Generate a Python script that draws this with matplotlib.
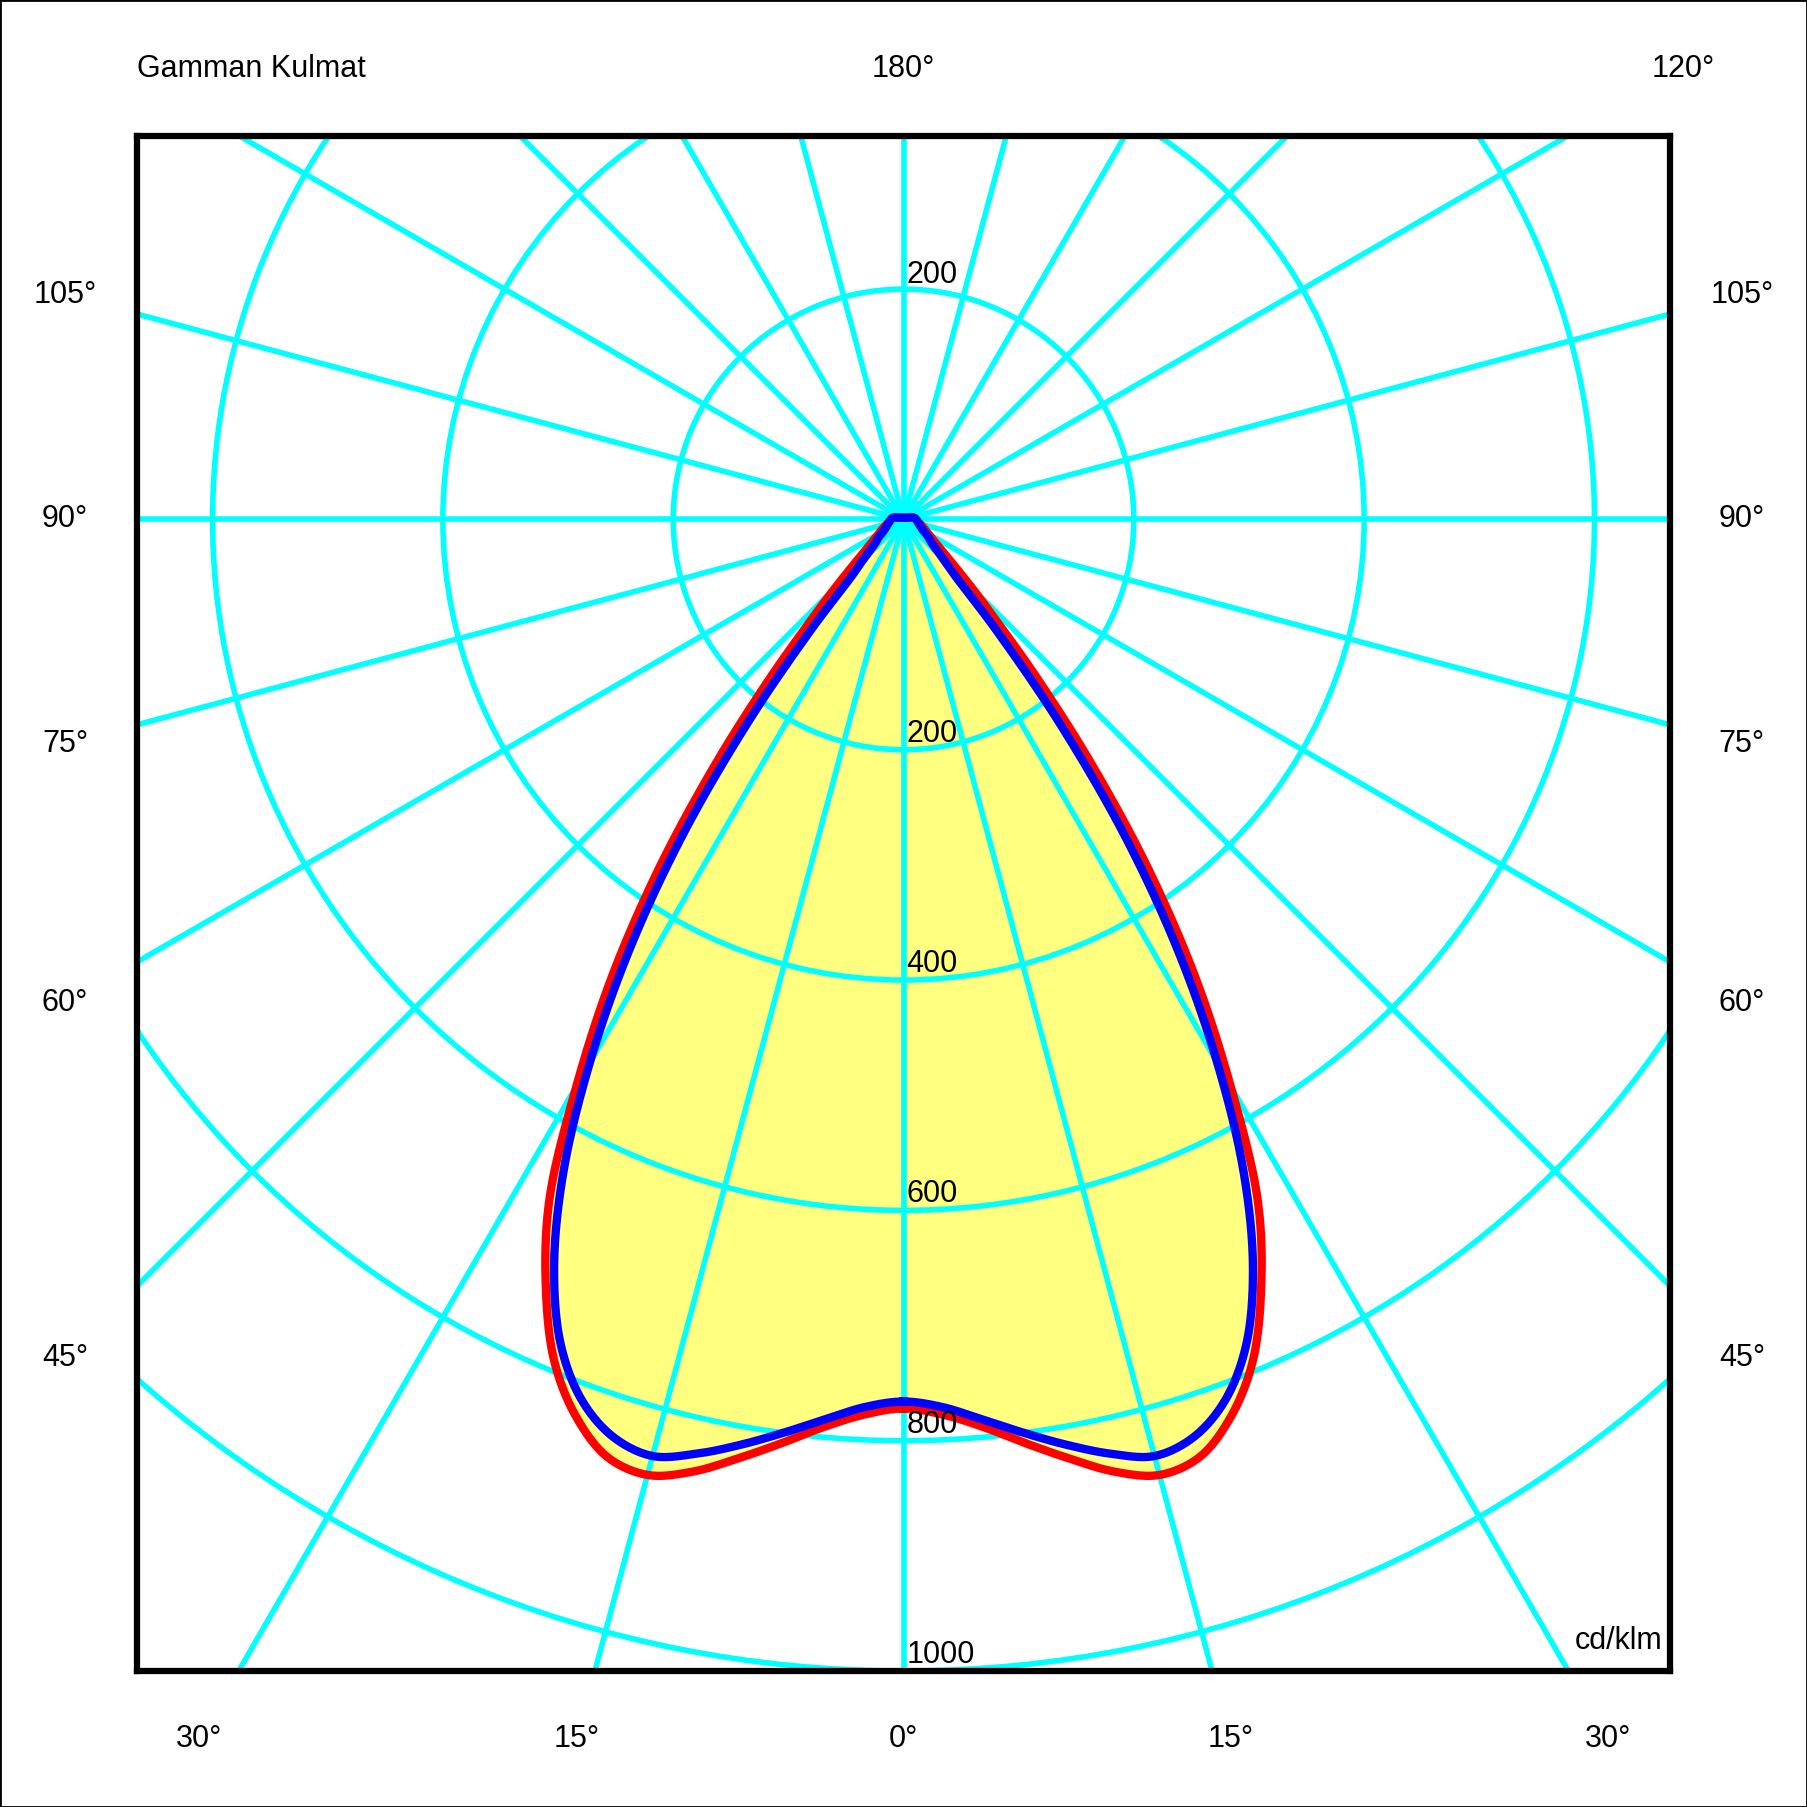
import numpy as np
import matplotlib
matplotlib.use("Agg")
import matplotlib.pyplot as plt
from matplotlib.patches import Circle, Rectangle, Polygon

plt.rcParams['font.family'] = ['Liberation Sans', 'DejaVu Sans']

# ---- data (cd/klm vs gamma angle in degrees, 0 = straight down) ----
gamma = [0, 2.5, 5, 7.5, 10, 12.5, 15, 17.5, 20, 22.5, 25, 27.5, 30, 32.5,
         35, 37.5, 40, 42.5, 45, 50, 55, 60, 70, 80, 90, 100, 120, 150, 180]
I_red = [772, 778, 791, 809, 828, 847, 859, 854, 830, 792, 735, 666, 568, 472,
         371, 270, 183, 120, 84, 47, 32, 25, 17.5, 13, 11, 9, 3, 1.7, 1.5]
I_blue = [766, 771.5, 784.5, 800, 816, 831, 842, 836, 815, 777, 718, 640, 545, 443,
          334, 221, 124, 66, 50, 32, 26, 20, 15, 12.5, 11, 9, 3, 1.7, 1.5]

ring_values = [200, 400, 600, 800, 1000, 1200]
ring_labels_down = [200, 400, 600, 800, 1000]
ring_labels_up = [200]
spoke_step = 15

left_angles = [105, 90, 75, 60, 45]
bottom_angles = [-30, -15, 0, 15, 30]
right_angles = [45, 60, 75, 90, 105]
top_angles = [180, 120]
title_text = "Gamman Kulmat"
unit_text = "cd/klm"

CYAN = '#00FFFF'
YELLOW = '#FFFF80'


def closed_outline(gam, val):
    g = np.radians(np.asarray(gam, float))
    r = np.asarray(val, float)
    xr, yr = r * np.sin(g), -r * np.cos(g)
    # right half 0..180, then left half 180..0 without repeating the ends
    x = np.concatenate([xr, -xr[-2:0:-1]])
    y = np.concatenate([yr, yr[-2:0:-1]])
    return x, y


def smooth_closed(x, y, n=24, alpha=0.5):
    """Centripetal Catmull-Rom through the closed point list."""
    P = np.column_stack([x, y])
    N = len(P)
    out = []
    for i in range(N):
        p0, p1, p2, p3 = P[(i - 1) % N], P[i], P[(i + 1) % N], P[(i + 2) % N]
        t0 = 0.0
        t1 = t0 + max(np.linalg.norm(p1 - p0), 1e-6) ** alpha
        t2 = t1 + max(np.linalg.norm(p2 - p1), 1e-6) ** alpha
        t3 = t2 + max(np.linalg.norm(p3 - p2), 1e-6) ** alpha
        t = np.linspace(t1, t2, n, endpoint=False)[:, None]
        A1 = (t1 - t) / (t1 - t0) * p0 + (t - t0) / (t1 - t0) * p1
        A2 = (t2 - t) / (t2 - t1) * p1 + (t - t1) / (t2 - t1) * p2
        A3 = (t3 - t) / (t3 - t2) * p2 + (t - t2) / (t3 - t2) * p3
        B1 = (t2 - t) / (t2 - t0) * A1 + (t - t0) / (t2 - t0) * A2
        B2 = (t3 - t) / (t3 - t1) * A2 + (t - t1) / (t3 - t1) * A3
        C = (t2 - t) / (t2 - t1) * B1 + (t - t1) / (t2 - t1) * B2
        out.append(C)
    C = np.vstack(out)
    C = np.vstack([C, C[:1]])
    return C[:, 0], C[:, 1]


fig = plt.figure(figsize=(18.07, 18.07), dpi=100)
ax = fig.add_axes([0.07526, 0.07526, 0.8495, 0.8495])
ax.set_xlim(-666, 666)
ax.set_ylim(-1000, 333)
ax.set_aspect('equal', adjustable='box')
ax.set_xticks([])
ax.set_yticks([])
for s in ax.spines.values():
    s.set_linewidth(4.5)
    s.set_color('black')
    s.set_zorder(10)

red_x, red_y = smooth_closed(*closed_outline(gamma, I_red))
blue_x, blue_y = smooth_closed(*closed_outline(gamma, I_blue))

# yellow fill
for xx, yy in ((red_x, red_y), (blue_x, blue_y)):
    ax.add_patch(Polygon(np.column_stack([xx, yy]), closed=True,
                         facecolor=YELLOW, edgecolor='none', zorder=1))

# grid
for rv in ring_values:
    ax.add_patch(Circle((0, 0), rv, fill=False, ec=CYAN, lw=4, zorder=2))
for a in range(0, 360, spoke_step):
    t = np.radians(a)
    ax.plot([0, 1600 * np.sin(t)], [0, -1600 * np.cos(t)], color=CYAN,
            lw=4, zorder=2, solid_capstyle='butt')

# curves
ax.plot(red_x, red_y, color='#FF0000', lw=6, zorder=3, solid_joinstyle='round')
ax.plot(blue_x, blue_y, color='#0000FF', lw=6, zorder=4, solid_joinstyle='round')

FS = 22
for v in ring_labels_down:
    ax.text(2.5, -v + 7, str(v), ha='left', va='baseline', fontsize=FS, zorder=6)
for v in ring_labels_up:
    ax.text(2.5, v + 5, str(v), ha='left', va='baseline', fontsize=FS, zorder=6)

ax.text(659, -981, unit_text, ha='right', va='baseline', fontsize=FS, zorder=6)

# angle labels placed on an outer rectangle
XB, YD, YU = 728, 1059, 391


def label_point(g, side):
    t = np.radians(g)
    dx, dy = side * np.sin(t), -np.cos(t)
    cands = []
    if abs(dx) > 1e-9:
        cands.append(XB / abs(dx))
    if dy < -1e-9:
        cands.append(YD / -dy)
    if dy > 1e-9:
        cands.append(YU / dy)
    k = min(cands)
    return dx * k, dy * k


for g in left_angles:
    px, py = label_point(g, -1)
    ax.text(px, py, f"{g}°", ha='center', va='center', fontsize=FS, clip_on=False)
for g in right_angles:
    px, py = label_point(g, 1)
    ax.text(px, py, f"{g}°", ha='center', va='center', fontsize=FS, clip_on=False)
for g in bottom_angles:
    px, py = label_point(abs(g), 1 if g >= 0 else -1)
    ax.text(px, py, f"{abs(g)}°", ha='center', va='center', fontsize=FS, clip_on=False)
for g in top_angles:
    px, py = label_point(g, 1)
    ax.text(px, py, f"{g}°", ha='center', va='center', fontsize=FS, clip_on=False)

ax.text(-666, YU, title_text, ha='left', va='center', fontsize=FS, clip_on=False)

fig.patches.append(Rectangle((0, 0), 1, 1, transform=fig.transFigure,
                             fill=False, ec='black', lw=2))

fig.savefig('out.png', dpi=100, facecolor='white')
